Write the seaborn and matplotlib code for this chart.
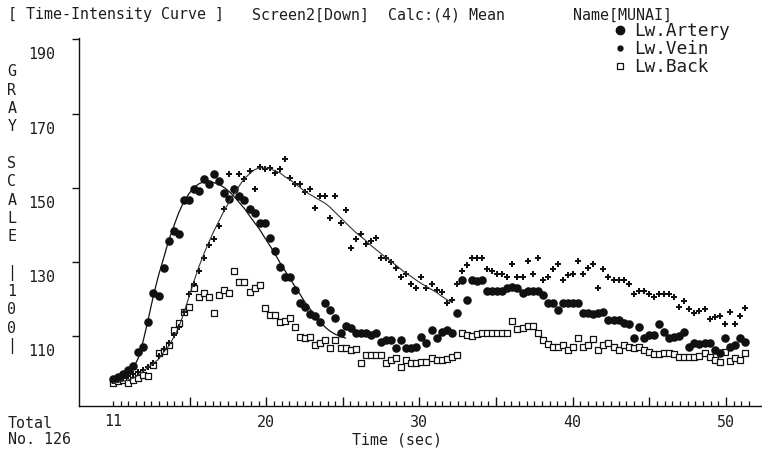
import numpy as np
import pandas as pd
import matplotlib
matplotlib.use("Agg")
import matplotlib.pyplot as plt
from matplotlib.lines import Line2D
from matplotlib.transforms import ScaledTranslation, blended_transform_factory
import seaborn as sns

# Frame times (sec): 126 frames at a constant frame interval
time_sec = np.linspace(10.0, 51.25, 126)

# Mean gray value of each region of interest per frame
artery = [98.4, 99.0, 99.8, 100.9, 101.9, 105.7, 107.0, 113.8, 121.6, 120.8,
          128.5, 135.8, 138.5, 137.7, 146.6, 146.8, 149.8, 149.2, 152.5, 151.1,
          153.8, 151.9, 148.7, 147.1, 149.8, 147.9, 146.6, 144.4, 143.3, 140.6,
          140.6, 136.6, 133.1, 128.8, 125.9, 125.9, 122.4, 118.9, 117.8, 115.9,
          115.4, 113.8, 118.9, 117.0, 114.8, 110.8, 112.7, 112.2, 110.8, 110.8,
          110.8, 110.3, 110.8, 108.4, 108.9, 108.9, 106.8, 108.9, 106.8, 106.8,
          107.0, 109.7, 108.1, 111.6, 109.5, 111.1, 111.6, 110.8, 116.2, 125.1,
          119.7, 125.3, 124.8, 125.1, 122.1, 122.1, 122.1, 122.1, 122.9, 123.2,
          122.9, 121.6, 122.1, 122.1, 122.1, 121.0, 119.1, 119.1, 117.0, 119.1,
          118.9, 119.1, 119.1, 116.2, 116.2, 115.9, 116.2, 116.5, 114.3, 114.3,
          114.3, 113.5, 113.2, 109.5, 112.4, 109.5, 110.3, 110.3, 113.2, 111.1,
          109.5, 109.7, 110.0, 111.1, 107.0, 108.1, 107.8, 108.1, 108.1, 106.2,
          105.4, 109.5, 107.0, 107.6, 109.5, 108.4]

vein = [97.9, 98.2, 98.7, 99.2, 99.8, 100.3, 100.9, 101.7, 102.7, 104.6,
        106.5, 108.1, 110.3, 112.4, 116.5, 121.3, 124.0, 127.7, 131.2, 134.5,
        136.3, 139.8, 144.4, 153.8, 149.2, 153.8, 152.5, 154.6, 149.8, 155.7,
        155.2, 155.4, 154.1, 155.2, 157.8, 152.7, 151.1, 151.1, 149.0, 149.8,
        144.7, 147.9, 147.9, 142.0, 147.9, 140.4, 144.1, 133.9, 136.3, 137.7,
        135.0, 135.8, 136.6, 131.2, 131.0, 129.9, 128.5, 125.9, 126.9, 124.2,
        122.9, 125.9, 122.9, 124.2, 122.4, 121.8, 119.1, 119.7, 124.2, 127.7,
        129.1, 131.2, 131.2, 131.2, 128.0, 127.5, 126.9, 126.9, 126.1, 129.4,
        126.1, 126.1, 130.2, 126.9, 131.2, 125.1, 126.1, 128.0, 129.4, 125.1,
        126.4, 126.9, 130.2, 126.9, 128.3, 129.4, 122.9, 128.0, 126.1, 125.3,
        125.3, 125.3, 124.2, 121.3, 122.1, 122.1, 121.3, 120.5, 121.3, 121.3,
        121.3, 120.5, 117.8, 119.4, 117.3, 116.2, 116.7, 117.3, 114.6, 115.1,
        115.4, 113.2, 116.5, 113.2, 115.4, 117.5]

back = [97.4, 97.9, 98.2, 97.4, 98.2, 98.7, 99.5, 99.2, 102.2, 105.4,
        106.0, 107.6, 111.6, 113.5, 116.5, 117.8, 122.9, 120.5, 121.6, 120.5,
        116.2, 121.0, 122.6, 121.6, 127.5, 124.5, 124.5, 121.8, 122.9, 123.7,
        117.5, 115.6, 115.6, 113.8, 114.0, 114.8, 112.4, 109.7, 109.5, 109.7,
        107.6, 108.1, 108.9, 106.8, 108.9, 106.8, 106.8, 106.2, 106.5, 102.7,
        104.9, 104.9, 104.9, 104.9, 102.7, 103.5, 104.1, 101.7, 103.5, 102.7,
        102.7, 103.0, 103.0, 104.1, 103.5, 103.5, 103.8, 104.4, 104.9, 110.8,
        110.3, 110.0, 110.5, 110.8, 110.8, 110.8, 110.8, 110.8, 110.8, 114.0,
        111.9, 112.2, 112.7, 112.7, 110.8, 108.9, 107.8, 107.0, 107.0, 107.6,
        106.2, 107.0, 109.5, 107.0, 107.6, 109.2, 106.2, 107.6, 108.1, 107.0,
        106.2, 107.6, 107.0, 106.8, 107.0, 106.2, 105.7, 105.2, 105.2, 105.4,
        105.4, 105.2, 104.4, 104.4, 104.4, 104.4, 104.6, 105.4, 104.4, 103.5,
        103.0, 105.7, 103.3, 104.1, 103.5, 105.4]

# Fitted first-pass curves (artery: frames 0-46, vein: frames 0-67)
artery_fit = [97.6, 97.9, 98.4, 99.5, 101.4, 104.1, 108.9, 114.8, 121.0, 126.4,
              131.0, 135.8, 139.6, 143.3, 146.3, 148.4, 150.1, 151.1, 151.7, 151.7,
              151.4, 150.9, 150.1, 149.0, 147.6, 146.0, 144.4, 142.5, 140.6, 138.8,
              136.6, 134.5, 132.3, 129.9, 127.7, 125.6, 123.4, 121.3, 119.1, 117.3,
              115.4, 113.8, 112.4, 111.3, 110.5, 110.0, 109.5]

vein_fit = [97.4, 97.6, 97.9, 98.2, 98.7, 99.5, 100.6, 101.7, 102.7, 103.8,
            105.7, 107.3, 109.7, 112.4, 116.2, 120.5, 124.8, 128.8, 132.3, 135.5,
            138.5, 141.2, 143.9, 146.3, 148.4, 150.6, 152.5, 153.8, 154.9, 155.4,
            155.4, 155.2, 154.6, 154.1, 153.0, 152.2, 151.1, 150.1, 149.0, 148.2,
            147.4, 146.6, 145.8, 144.7, 143.3, 142.0, 140.6, 139.3, 138.0, 136.9,
            135.8, 134.5, 133.4, 132.3, 131.2, 130.2, 129.1, 128.0, 126.9, 126.1,
            125.1, 124.2, 123.4, 122.6, 121.8, 120.8, 119.9, 119.1]

series_names = ["Lw.Artery", "Lw.Vein", "Lw.Back"]
ytick_values = [110, 130, 150, 170, 190]
xtick_values = [20, 30, 40, 50]
start_label = "11"
header_parts = ["[ Time-Intensity Curve ]", "Screen2[Down]", "Calc:(4) Mean", "Name[MUNAI]"]
ylabel_chars = ["G", "R", "A", "Y", "", "S", "C", "A", "L", "E", "", "|", "1", "0", "0", "|"]

df = pd.DataFrame({"time": time_sec, "artery": artery, "vein": vein, "back": back})
fit_a = pd.DataFrame({"time": time_sec[:len(artery_fit)], "value": artery_fit})
fit_v = pd.DataFrame({"time": time_sec[:len(vein_fit)], "value": vein_fit})

ink = "#111111"
txt = "#1e1e1e"
fs = 10.8
W, H = 762, 455

sns.set_theme(style="ticks", rc={
    "xtick.direction": "in", "ytick.direction": "out",
    "xtick.major.size": 6.5, "xtick.minor.size": 3.5,
    "xtick.major.width": 1.0, "xtick.minor.width": 0.9,
    "ytick.major.size": 5, "ytick.major.width": 1.0,
    "xtick.color": ink, "ytick.color": ink,
    "axes.edgecolor": ink, "axes.linewidth": 1.0,
})
plt.rcParams["font.family"] = ["DejaVu Sans Mono", "DejaVu Sans"]

fig = plt.figure(figsize=(W / 100, H / 100), dpi=100)
ax = fig.add_axes([79 / W, 49 / H, 683 / W, 368 / H])

sns.scatterplot(data=df, x="time", y="back", marker="s", s=16, facecolor="white",
                edgecolor=ink, linewidth=0.9, ax=ax, zorder=2)
sns.scatterplot(data=df, x="time", y="vein", marker="P", s=16, color=ink,
                linewidth=0, ax=ax, zorder=3)
sns.scatterplot(data=df, x="time", y="artery", marker="o", s=38, color=ink,
                linewidth=0, ax=ax, zorder=4)
sns.lineplot(data=fit_a, x="time", y="value", color=ink, linewidth=0.9, ax=ax, zorder=5)
sns.lineplot(data=fit_v, x="time", y="value", color="#333333", linewidth=0.8, ax=ax, zorder=5)

ax.set_xlim(7.78, 52.36)
ax.set_ylim(91.2, 190.4)
ax.set_xlabel("")
ax.set_ylabel("")
sns.despine(ax=ax)

# y axis: outward ticks, labels set just below each tick
ax.set_yticks(ytick_values)
ax.set_yticklabels([str(v) for v in ytick_values])
ax.tick_params(axis="y", which="major", left=True, pad=12, labelsize=fs, labelcolor=txt)
shift = ScaledTranslation(0, -14 / 100, fig.dpi_scale_trans)
for lab in ax.get_yticklabels():
    lab.set_transform(lab.get_transform() + shift)

# x axis: inward ticks every 0.5 s, longer every 5 s
major_x = np.arange(15, 51, 5)
ax.set_xticks(major_x)
ax.set_xticklabels([str(v) if v in xtick_values else "" for v in major_x])
ax.set_xticks(np.arange(10, 51.6, 0.5), minor=True)
ax.tick_params(axis="x", which="both", bottom=True)
ax.tick_params(axis="x", which="major", pad=6.5, labelsize=fs, labelcolor=txt)
trans = blended_transform_factory(ax.transData, ax.transAxes)
ax.text(time_sec[0], 0, start_label,
        transform=trans + ScaledTranslation(0, -16 / 100, fig.dpi_scale_trans),
        ha="center", va="center", fontsize=fs, color=txt)

# header line
for xpx, s in zip([8, 252, 388, 573], header_parts):
    fig.text(xpx / W, 1 - 15 / H, s, ha="left", va="center", fontsize=fs, color=txt)

# stacked vertical axis title
for k, ch in enumerate(ylabel_chars):
    if ch:
        fig.text(12 / W, 1 - (72 + 18.3 * k) / H, ch, ha="center", va="center",
                 fontsize=fs, color=txt)

fig.text(8 / W, 1 - 423 / H, "Total", ha="left", va="center", fontsize=fs, color=txt)
fig.text(8 / W, 1 - 440 / H, "No. 126", ha="left", va="center", fontsize=fs, color=txt)
fig.text(397 / W, 1 - 440 / H, "Time (sec)", ha="center", va="center", fontsize=fs, color=txt)

handles = [
    Line2D([], [], linestyle="none", marker="o", markersize=6, color=ink),
    Line2D([], [], linestyle="none", marker="o", markersize=3.5, color=ink),
    Line2D([], [], linestyle="none", marker="s", markersize=4.5, markerfacecolor="white",
           markeredgecolor=ink, markeredgewidth=0.9),
]
leg = fig.legend(handles, series_names, loc="upper left", bbox_to_anchor=(613 / W, 1 - 22 / H),
                 frameon=False, fontsize=12.8, handlelength=0.8, handletextpad=0.4,
                 labelspacing=0.0, borderpad=0, borderaxespad=0)
for t in leg.get_texts():
    t.set_color(txt)

fig.savefig("out.png", dpi=100, facecolor="white")
